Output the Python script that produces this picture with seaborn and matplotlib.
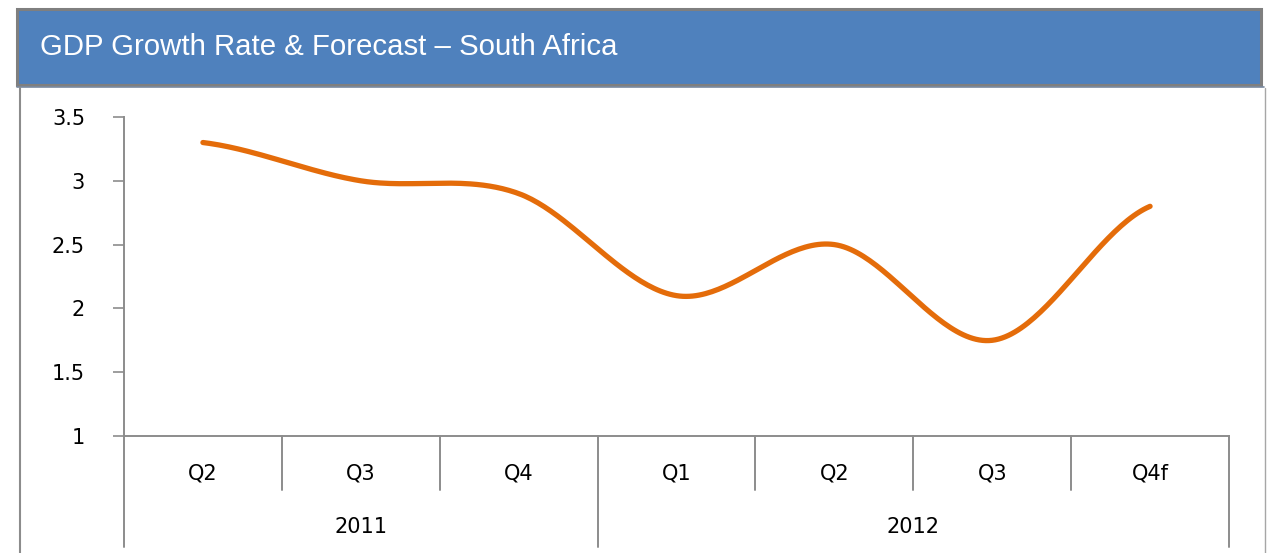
"""
GDP Growth Rate & Forecast - South Africa (smoothed Excel-style line)
"""

import numpy as np
import pandas as pd
import matplotlib
matplotlib.use('Agg')
import matplotlib.pyplot as plt
import matplotlib.transforms as mtransforms
from matplotlib.patches import Rectangle
from matplotlib.lines import Line2D
import seaborn as sns

# Data
quarters = ['Q2', 'Q3', 'Q4', 'Q1', 'Q2', 'Q3', 'Q4f']
years = ['2011', '2012']
quarters_per_year = [3, 4]
growth = [3.3, 3.0, 2.9, 2.1, 2.5, 1.75, 2.8]
y_ticks = [1, 1.5, 2, 2.5, 3, 3.5]

TITLE = 'GDP Growth Rate & Forecast \u2013 South Africa'
LINE_COLOR = '#E46C0A'
BANNER_COLOR = '#4F81BD'
GRID_GREY = '#8C8C8C'
LABEL_FONT = ['DejaVu Sans']
LABEL_SIZE = 15

W, H = 1268, 553


def smooth_curve(y, n=50):
    """Courbe lissée type Excel (Catmull-Rom / Hermite)"""
    y = np.asarray(y, float)
    x = np.arange(len(y), dtype=float)
    m = np.empty_like(y)
    m[1:-1] = (y[2:] - y[:-2]) / 2
    m[0] = (y[1] - y[0]) / 2
    m[-1] = (y[-1] - y[-2]) / 2
    xs, ys = [], []
    t = np.linspace(0, 1, n)
    h00 = 2 * t**3 - 3 * t**2 + 1
    h10 = t**3 - 2 * t**2 + t
    h01 = -2 * t**3 + 3 * t**2
    h11 = t**3 - t**2
    for i in range(len(y) - 1):
        xs.append(x[i] + t)
        ys.append(h00 * y[i] + h10 * m[i] + h01 * y[i + 1] + h11 * m[i + 1])
    return np.concatenate(xs), np.concatenate(ys)


sns.set_theme(style='white')
plt.rcParams['font.family'] = ['Liberation Sans', 'DejaVu Sans']

fig = plt.figure(figsize=(W / 100, H / 100), dpi=100)
fig.patch.set_facecolor('white')


def fx(px):
    return px / W


def fy(py):
    return 1 - py / H


# Bandeau de titre
fig.add_artist(Rectangle((fx(17), fy(85)), fx(1244), fy(9) - fy(85),
                         transform=fig.transFigure, facecolor=BANNER_COLOR,
                         edgecolor='#7F7F7F', linewidth=2.2))
fig.add_artist(Line2D([fx(17), fx(1264)], [fy(87), fy(87)],
                      transform=fig.transFigure, color='#7A8AA0', lw=1.2))
fig.text(fx(40), fy(47), TITLE, color='white', fontsize=21.2,
         ha='left', va='center')

# Cadre du panneau
fig.add_artist(Line2D([fx(19.5), fx(19.5)], [fy(88), 0],
                      transform=fig.transFigure, color=GRID_GREY, lw=1.5))
fig.add_artist(Line2D([fx(1265), fx(1265)], [fy(88), 0],
                      transform=fig.transFigure, color='#A6A6A6', lw=1.0))

# Zone du graphique
ax = fig.add_axes([fx(124), fy(436), fx(1229) - fx(124), fy(117) - fy(436)])
ax.set_facecolor('white')

xs, ys = smooth_curve(growth)
df = pd.DataFrame({'pos': xs, 'value': ys})
sns.lineplot(data=df, x='pos', y='value', ax=ax, color=LINE_COLOR,
             linewidth=3.8, sort=False, estimator=None)
for line in ax.lines:
    line.set_solid_capstyle('round')

ax.set_xlim(-0.5, len(quarters) - 0.5)
ax.set_ylim(y_ticks[0], y_ticks[-1])
ax.set_yticks(y_ticks)
ax.set_yticklabels([f'{v:g}' for v in y_ticks], family=LABEL_FONT)
ax.set_xticks([])
ax.set_xlabel('')
ax.set_ylabel('')
ax.tick_params(axis='y', length=8, width=1.2, color=GRID_GREY, pad=20,
               labelsize=LABEL_SIZE, labelcolor='black', left=True)

for side in ['top', 'right']:
    ax.spines[side].set_visible(False)
for side in ['left', 'bottom']:
    ax.spines[side].set_color(GRID_GREY)
    ax.spines[side].set_linewidth(1.4)

# Axe des catégories à deux niveaux
trans = mtransforms.blended_transform_factory(ax.transData, ax.transAxes)
year_edges = np.concatenate([[0], np.cumsum(quarters_per_year)]) - 0.5
for b in np.arange(len(quarters) + 1) - 0.5:
    bottom = -0.348 if b in year_edges else -0.169
    ax.plot([b, b], [0, bottom], transform=trans, clip_on=False,
            color=GRID_GREY, lw=1.4)

for i, q in enumerate(quarters):
    ax.text(i, -0.116, q, transform=trans, ha='center', va='center',
            fontsize=LABEL_SIZE, color='black', family=LABEL_FONT)

for yr, a, b in zip(years, year_edges[:-1], year_edges[1:]):
    ax.text((a + b) / 2, -0.285, yr, transform=trans, ha='center',
            va='center', fontsize=LABEL_SIZE, color='black',
            family=LABEL_FONT)

plt.savefig('out.png', dpi=100)
plt.close()
